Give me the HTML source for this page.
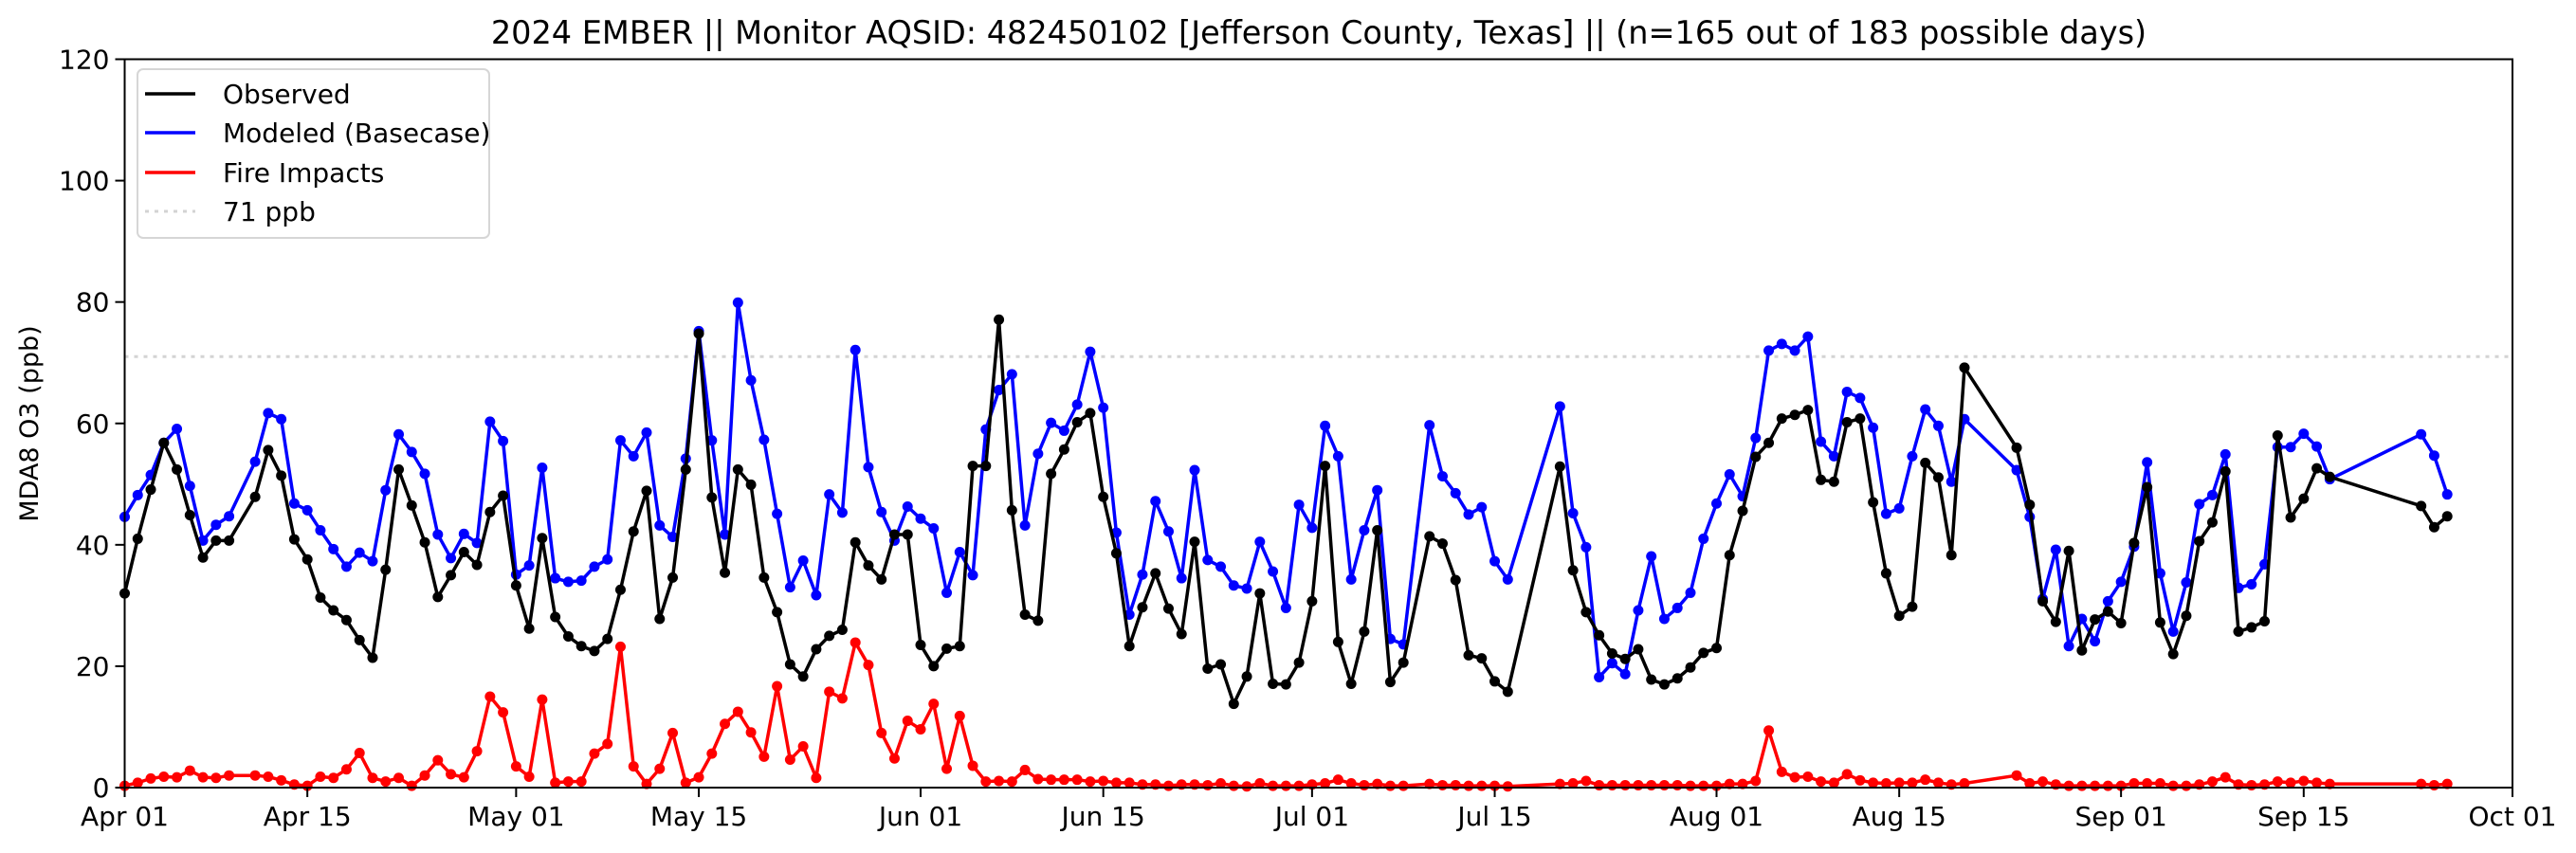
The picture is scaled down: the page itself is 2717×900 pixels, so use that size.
<!DOCTYPE html>
<html><head><meta charset="utf-8"><title>2024 EMBER MDA8 O3</title>
<style>
html,body{margin:0;padding:0;background:#fff;}
svg{display:block;font-family:"DejaVu Sans","Liberation Sans",sans-serif;}
</style></head>
<body>
<svg id="chart" width="2717" height="900" viewBox="0 0 2717 900" xmlns="http://www.w3.org/2000/svg">
  <rect width="2717" height="900" fill="#fff"/>
  <text x="1391" y="46" font-size="33.5" text-anchor="middle" fill="#000">2024 EMBER || Monitor AQSID: 482450102 [Jefferson County, Texas] || (n=165 out of 183 possible days)</text>
  <text transform="translate(40,447) rotate(-90)" font-size="27" text-anchor="middle" fill="#000">MDA8 O3 (ppb)</text>
  <g id="grid"></g>
  <g id="series"></g>
  <g id="axes"></g>
  <g id="legend">
    <rect x="145" y="73" width="371" height="178" rx="6" fill="#fff" fill-opacity="0.8" stroke="#d6d6d6" stroke-width="2"/>
    <line x1="153" y1="99" x2="206" y2="99" stroke="#000" stroke-width="3.5"/>
    <text x="235" y="109" font-size="28">Observed</text>
    <line x1="153" y1="140" x2="206" y2="140" stroke="#0000ff" stroke-width="3.5"/>
    <text x="235" y="150" font-size="28">Modeled (Basecase)</text>
    <line x1="153" y1="182" x2="206" y2="182" stroke="#ff0000" stroke-width="3.5"/>
    <text x="235" y="192" font-size="28">Fire Impacts</text>
    <line x1="153" y1="223" x2="206" y2="223" stroke="#d3d3d3" stroke-width="3" stroke-dasharray="4,6"/>
    <text x="235" y="233" font-size="28">71 ppb</text>
  </g>
</svg>
<script>
const days = [0,1,2,3,4,5,6,7,8,
10,11,12,13,14,15,16,17,18,19,20,21,22,23,24,25,26,27,28,29,30,31,32,33,34,35,36,37,38,39,40,41,42,43,44,45,46,47,48,49,50,51,52,53,54,55,56,57,58,59,60,61,62,63,64,65,66,67,68,69,70,71,72,73,74,75,76,77,78,79,80,81,82,83,84,85,86,87,88,89,90,91,92,93,94,95,96,97,98,
100,101,102,103,104,105,106,
110,111,112,113,114,115,116,117,118,119,120,121,122,123,124,125,126,127,128,129,130,131,132,133,134,135,136,137,138,139,140,141,
145,146,147,148,149,150,151,152,153,154,155,156,157,158,159,160,161,162,163,164,165,166,167,168,169,
176,177,178];
const observed = [32.0,41.0,49.1,56.8,52.4,44.9,37.9,40.7,40.7,
47.9,55.6,51.4,40.9,37.6,31.3,29.2,27.6,24.3,21.4,
35.9,52.4,46.5,40.4,31.4,35.0,38.8,36.7,45.4,48.1,
33.3,26.2,41.1,28.1,24.9,23.3,22.5,24.5,32.6,42.2,
48.9,27.8,34.6,52.4,74.8,47.8,35.4,52.4,49.9,34.6,
28.9,20.3,18.3,22.8,25.0,26.0,40.4,36.6,34.3,41.7,
41.7,23.5,20.0,22.9,23.3,53.0,53.0,77.1,45.7,28.5,
27.5,51.7,55.7,60.2,61.7,47.9,38.6,23.3,29.7,35.3,
29.5,25.3,40.5,19.6,20.3,13.8,18.3,32.0,17.1,17.0,
20.6,30.7,53.0,24.0,17.1,25.7,42.4,17.4,20.6,
41.4,40.2,34.2,21.8,21.3,17.5,15.8,
52.9,35.8,28.9,25.1,22.1,21.2,22.8,17.8,17.0,18.0,
19.8,22.2,23.0,38.3,45.6,54.5,56.8,60.8,61.4,62.2,
50.7,50.4,60.2,60.8,47.0,35.3,28.3,29.8,53.5,51.1,
38.3,69.2,
56.0,46.6,30.7,27.3,39.0,22.6,27.7,29.0,27.1,40.3,
49.5,27.2,22.0,28.3,40.6,43.7,52.1,25.7,26.4,27.4,
58.0,44.5,47.6,52.6,51.2,
46.4,42.9,44.7];
const modeled = [44.6,48.2,51.5,56.8,59.1,49.7,40.7,43.3,44.7,
53.7,61.7,60.7,46.8,45.7,42.4,39.3,36.4,38.7,37.3,
49.0,58.2,55.3,51.7,41.7,37.8,41.8,40.3,60.3,57.1,
35.1,36.6,52.7,34.5,33.9,34.1,36.4,37.6,57.2,54.6,
58.5,43.2,41.3,54.2,75.2,57.2,41.7,79.9,67.1,57.3,
45.1,33.0,37.4,31.7,48.3,45.3,72.1,52.8,45.4,40.7,
46.3,44.3,42.7,32.1,38.8,35.0,59.0,65.5,68.1,43.2,
55.0,60.1,58.8,63.1,71.8,62.6,42.0,28.5,35.1,47.2,
42.2,34.5,52.3,37.5,36.4,33.3,32.8,40.5,35.6,29.6,
46.6,42.8,59.6,54.6,34.3,42.4,49.0,24.5,23.6,
59.7,51.3,48.5,45.0,46.2,37.3,34.3,
62.8,45.2,39.6,18.2,20.5,18.7,29.2,38.1,27.8,29.6,
32.1,41.0,46.8,51.6,48.0,57.6,72.0,73.1,72.0,74.3,
57.0,54.6,65.2,64.2,59.3,45.1,46.0,54.6,62.3,59.6,
50.4,60.7,
52.3,44.6,31.1,39.2,23.3,27.8,24.1,30.7,33.9,39.7,
53.6,35.3,25.7,33.8,46.7,48.2,54.9,32.9,33.5,36.8,
56.1,56.1,58.3,56.2,50.8,
58.2,54.7,48.3];
const fire = [0.3,0.8,1.5,1.8,1.7,2.8,1.7,1.6,2.0,
2.0,1.8,1.2,0.5,0.3,1.8,1.6,3.0,5.7,1.6,
1.0,1.6,0.3,2.0,4.5,2.2,1.7,6.0,15.0,12.4,
3.5,1.8,14.5,0.8,1.0,1.0,5.6,7.2,23.2,3.5,
0.6,3.1,9.0,0.8,1.7,5.6,10.5,12.5,9.1,5.1,
16.7,4.6,6.8,1.6,15.8,14.7,23.9,20.2,9.0,4.8,
11.0,9.6,13.8,3.1,11.8,3.6,1.0,1.1,1.0,2.9,
1.4,1.3,1.3,1.3,1.0,1.1,0.8,0.8,0.5,0.5,
0.3,0.5,0.5,0.4,0.7,0.3,0.2,0.7,0.3,0.3,
0.3,0.5,0.7,1.3,0.7,0.4,0.6,0.3,0.3,
0.6,0.4,0.4,0.3,0.3,0.3,0.2,
0.6,0.7,1.1,0.4,0.4,0.4,0.4,0.4,0.4,0.4,
0.3,0.3,0.3,0.6,0.6,1.1,9.4,2.6,1.7,1.8,
1.0,0.8,2.2,1.2,0.8,0.7,0.8,0.8,1.3,0.8,
0.5,0.7,
2.0,0.7,1.0,0.5,0.3,0.3,0.3,0.3,0.3,0.7,
0.7,0.7,0.3,0.3,0.5,1.0,1.7,0.5,0.4,0.5,
1.0,0.8,1.1,0.8,0.6,
0.6,0.4,0.6];
const xTickDays = [0,14,30,44,61,75,91,105,122,136,153,167,183];
const xTickLabels = ["Apr 01","Apr 15","May 01","May 15","Jun 01","Jun 15","Jul 01","Jul 15","Aug 01","Aug 15","Sep 01","Sep 15","Oct 01"];
const yTicks = [0,20,40,60,80,100,120];
const threshold = 71;

const NS = "http://www.w3.org/2000/svg";
const L = 131.5, R = 2650, T = 62.5, B = 831;
const xMax = 183, yMax = 120;
function xs(d){ return L + (R - L) * d / xMax; }
function ys(v){ return B - (B - T) * v / yMax; }
function mk(tag, attrs, parent){
  const e = document.createElementNS(NS, tag);
  for (const k in attrs) e.setAttribute(k, attrs[k]);
  parent.appendChild(e);
  return e;
}
const gGrid = document.getElementById('grid');
const gSeries = document.getElementById('series');
const gAxes = document.getElementById('axes');

const th = mk('line', {x1:L, x2:R, y1:ys(threshold), y2:ys(threshold), stroke:'#d3d3d3', 'stroke-width':3, 'stroke-dasharray':'4,6'}, gGrid);



function drawSeries(vals, color, name){
  const g = mk('g', {}, gSeries);
  
  
  const pts = days.map((d,i) => xs(d).toFixed(2) + ',' + ys(vals[i]).toFixed(2)).join(' ');
  const pl = mk('polyline', {points:pts, fill:'none', stroke:color, 'stroke-width':3.5, 'stroke-linejoin':'round'}, g);
  
  
  days.forEach((d,i) => {
    const c = mk('circle', {cx:xs(d), cy:ys(vals[i]), r:5.5, fill:color}, g);
    
    
  });
}
drawSeries(fire, '#ff0000', 'fire-impacts');
drawSeries(modeled, '#0000ff', 'modeled');
drawSeries(observed, '#000000', 'observed');

const frame = mk('rect', {x:L, y:T, width:R-L, height:B-T, fill:'none', stroke:'#000', 'stroke-width':2}, gAxes);



xTickDays.forEach((d,i) => {
  const t = mk('line', {x1:xs(d), x2:xs(d), y1:B, y2:B+10, stroke:'#000', 'stroke-width':2}, gAxes);
  
  
  const lb = mk('text', {x:xs(d), y:B+40, 'font-size':28, 'text-anchor':'middle', fill:'#000'}, gAxes);
  lb.textContent = xTickLabels[i];
  
  
});
yTicks.forEach(v => {
  const t = mk('line', {x1:L-10, x2:L, y1:ys(v), y2:ys(v), stroke:'#000', 'stroke-width':2}, gAxes);
  
  
  const lb = mk('text', {x:L-16, y:ys(v)+10, 'font-size':28, 'text-anchor':'end', fill:'#000'}, gAxes);
  lb.textContent = String(v);
  
  
});
</script>
</body></html>
